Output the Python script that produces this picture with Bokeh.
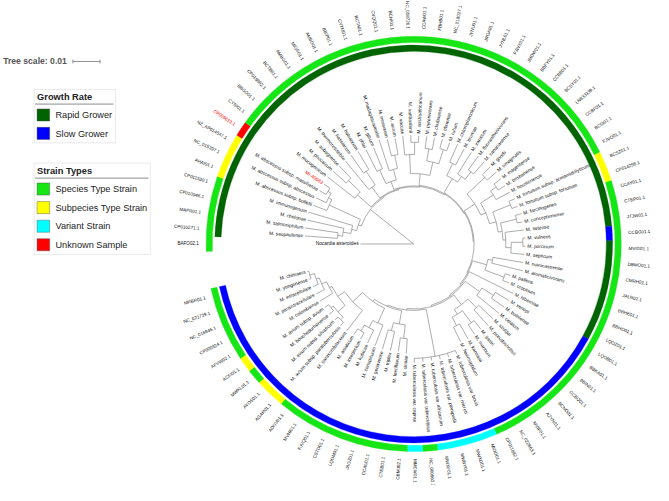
import math
from bokeh.plotting import figure
from bokeh.models import Range1d, ColumnDataSource
from bokeh.core.properties import value
from bokeh.embed import file_html
from bokeh.resources import INLINE

# ------------------------------------------------------------------ data
species = [
    "Nocardia asteroides", "M. saopaulense", "M. salmoniphilum", "M. chelonae", "M. immunogenum",
    "M. abscessus subsp. bolletii", "M. abscessus subsp. abscessus", "M. abscessus subsp. massiliense",
    "MI-40083", "M. mucogenicum",
    "M. phocaicum", "M. aubagnense", "M. thermoresistibile", "M. hassiacum", "M. holsaticum",
    "M. phlei", "M. gilvum", "M. madagascariense", "M. neoaurum", "M. aurum",
    "M. vaccae", "M. vanbaalenii", "M. austroafricanum", "M. pyrenivorans", "M. chubuense",
    "M. obuense", "M. rufum", "M. chlorophenolicum", "M. brumae", "M. iranicum",
    "M. fluoranthenivorans", "M. canariasense", "M. goodii", "M. smegmatis", "M. mageritense",
    "M. brisbanense", "M. houstonense", "M. fortuitum subsp. acetamidolyticum",
    "M. fortuitum subsp. fortuitum", "M. farcinogenes",
    "M. conceptionense", "M. setense", "M. vulneris", "M. porcinum", "M. septicum",
    "M. novocastrense", "M. aromaticivorans", "M. pallens", "M. crocinum", "M. hiberniae",
    "M. xenopi", "M. botniense", "M. celatum", "M. szulgai", "M. pseudoshottsii",
    "M. gastri", "M. marinum", "M. kansasii", "M. haemophilum", "M. tuberculosis var. bovis",
    "M. tuberculosis var. microti", "M. tuberculosis var. pinnipedii", "M. tuberculosis var. africanum",
    "M. tuberculosis var. tuberculosis", "M. tuberculosis var. caprae",
    "M. simiae", "M. lentiflavum", "M. triplex", "M. genavense", "M. conspicuum",
    "M. kubicae", "M. interjectum", "M. asiaticum", "M. parascrofulaceum",
    "M. avium subsp. paratuberculosis", "M. avium subsp. silvaticum", "M. bouchedurhonense",
    "M. avium subsp. avium", "M. colombiense", "M. paraintracellulare",
    "M. intracellulare", "M. yongonense", "M. chimaera",
]

accessions = [
    "BAFO02.1", "CP010271.1", "MAFR01.1", "CP010946.1", "CP011530.1",
    "AHAI01.1", "NC_015397.1", "NZ_AP014547.1", "CP009613.1", "CYSI01.1",
    "BBGO01.1", "CP019882.1", "BCTB01.1", "AMBG01.1", "MIGS01.1",
    "AMBO01.1", "BBIP01.1", "CYTM01.1", "BCTA01.1", "CVQQ01.1",
    "BCHI01.1", "NC_008726.1", "CCAW01.1", "FBHB01.1", "NC_018027.1",
    "JYNU01.1", "JRGA01.1", "JYNL01.1", "FJWX01.1", "JMDW01.1",
    "BBFY01.1", "CCBB01.1", "BCSY01.1", "LN833339.1", "CCBF01.1",
    "BCSI01.1", "FJVO01.1", "BCSZ01.1", "CP014258.1", "CCAY01.1",
    "CTEP01.1", "JTJW01.1", "CCBG01.1", "MVIG01.1", "DBMO01.1",
    "CMRH01.1", "JALN02.1", "BBHE01.1", "BBHO01.1", "LQOZ01.1",
    "LQOB01.1", "BBKA01.1", "BBIN01.1", "CCBQ01.1", "BCNO01.1",
    "AZYN01.1", "MVIF01.1", "NC_022663.1", "CP011882.1", "MIOD01.1",
    "MWXD01.1", "MWBY01.1", "MWXF01.1", "NC_000962.3", "MMCW01.1",
    "CBMJ02.1", "CTEB01.1", "CCAU01.1", "JAGZ01.1", "LQOM01.1",
    "CSTD01.1", "FJVQ01.1", "MVHI01.1", "ADNV01.1", "AGAR01.1",
    "AYOS01.1", "MWKL01.1", "ACFI01.1", "AFVW02.1", "CP000324.1",
    "NC_016946.1", "NC_021729.1", "MRBR01.1",
]

# growth rate: R = rapid, S = slow, "" = not scored (outgroup)
growth = [
    "", "R", "R", "R", "R", "R", "R", "R", "R", "R",
    "R", "R", "R", "R", "R", "R", "R", "R", "R", "R",
    "R", "R", "R", "R", "R", "R", "R", "R", "R", "R",
    "R", "R", "R", "R", "R", "R", "R", "R", "R", "R",
    "R", "R", "S", "R", "R", "R", "R", "R", "R", "R",
    "S", "S", "S", "S", "S", "S", "S", "S", "S", "S",
    "S", "S", "S", "S", "S", "S", "S", "S", "S", "S",
    "S", "S", "S", "S", "S", "S", "S", "S", "S", "S",
    "S", "S", "S",
]

# strain type: S = species type, Y = subspecies type, V = variant, U = unknown sample
strain = [
    "S", "S", "S", "S", "S", "Y", "Y", "Y", "U", "S",
    "S", "S", "S", "S", "S", "S", "S", "S", "S", "S",
    "S", "S", "S", "S", "S", "S", "S", "S", "S", "S",
    "S", "S", "S", "S", "S", "S", "S", "Y", "Y", "S",
    "S", "S", "S", "S", "S", "S", "S", "S", "S", "S",
    "S", "S", "S", "S", "S", "S", "S", "S", "S", "V",
    "V", "V", "V", "S", "V", "S", "S", "S", "S", "S",
    "S", "S", "S", "S", "Y", "Y", "S", "Y", "S", "S",
    "S", "S", "S",
]

growth_names = {"R": "Rapid Grower", "S": "Slow Grower"}
growth_colors = {"R": "#006400", "S": "#0000ff"}
strain_names = {"S": "Species Type Strain", "Y": "Subpecies Type Strain",
                "V": "Variant Strain", "U": "Unknown Sample"}
strain_colors = {"S": "#16e616", "Y": "#ffff00", "V": "#00ffff", "U": "#ff0000"}

# Tree in Newick form: leaves are 1-based indices into the lists above,
# branch lengths in units of 0.001 substitutions/site.
CLADE_ABS = "((((2:12.0,3:12.2):1.8,4:13.6):2.9,5:17.0):1.9,(6:5.3,(7:4.1,(8:2.8,9:2.6):1.4):1.4):12.7)"
CLADE_MUC = "(10:12.8,(11:6.5,12:6.1):6.0)"
CLADE_THR = "(13:13.5,(14:8.1,15:7.8):6.0)"
CLADE_R1 = "((16:9.0,17:8.5):5.5,(18:12.0,(19:6.3,20:6.0):5.0):4.0)"
CLADE_R2 = "((21:7.0,(22:2.7,23:2.5):4.5):7.0,((24:4.5,25:4.3):4.5,(26:3.6,27:3.1):5.5):5.0)"
CLADE_R3 = "((28:7.2,29:6.7):5.0,(30:9.4,(31:6.3,32:6.0):3.5):2.5)"
CLADE_R4 = ("((33:4.1,34:4.4):9.0,(((35:3.2,36:3.0):2.5,37:5.8):5.5,((38:2.5,39:2.3):7.0,"
            "((40:2.3,41:2.0):6.0,(42:7.0,((43:1.0,44:0.9):4.3,45:5.0):2.0):1.0):1.5):2.5):2.0)")
CLADE_R5 = "((46:11.3,47:11.8):1.7,(48:2.0,49:2.5):7.5)"
CLADE_XBC = "((51:6.0,52:5.8):5.0,53:10.5)"
CLADE_KAN = "((54:7.3,55:7.8):4.5,((56:4.0,57:4.2):5.5,(58:6.4,59:6.0):3.5):2.0)"
CLADE_TB = "(60:1.3,61:1.5,62:1.4,63:1.3,64:1.4,65:1.6)"
CLADE_SIM = "((66:5.5,67:5.0):5.0,(68:7.3,69:7.6):3.0)"
CLADE_CON = "(70:8.0,(71:5.3,(72:2.7,73:2.5):2.5):3.0)"
CLADE_MAC = ("(74:9.5,(((75:1.6,76:1.5):1.3,(77:2.0,78:1.8):1.0):3.5,"
             "(79:5.4,(80:3.4,(81:2.1,(82:0.6,83:0.5):1.8):1.2):2.0):1.0):3.0)")
TREE = ("(1:19.6,(" + CLADE_ABS + ":1.2,(" + CLADE_MUC + ":6.7,(" + CLADE_THR + ":4.9,("
        + CLADE_R1 + ":3.1,(" + CLADE_R2 + ":4.3,(" + CLADE_R3 + ":6.0,(" + CLADE_R4 + ":4.7,("
        + CLADE_R5 + ":5.4,(50:18.0,(" + CLADE_XBC + ":6.5,(" + CLADE_KAN + ":4.5,(" + CLADE_TB
        + ":17.7,(" + CLADE_SIM + ":5.0,(" + CLADE_CON + ":6.0," + CLADE_MAC
        + ":5.0):1.0):0.5):0.5):0.5):0.5):0.4):0.3):0.3):0.3):0.3):0.3):0.3):0.4):20.4);")
LENGTH_UNIT = 0.001
SCALE_BAR = 0.01

# ------------------------------------------------------------------ layout
W, H = 653, 485
IMG_W, IMG_H = 669, 501
S = H / IMG_H                      # uniform shrink so the whole picture fits
CX, CY = 424.0, 251.5              # circle centre (picture pixels)
PX_PER_SUB = 2800.0                # tree scale: 0.01 -> 28 px
ARC_START, ARC_SPAN = 180.0, 345.5
R_GROW = (199.0, 205.5)
R_STRAIN = (208.0, 214.5)
R_OUTER_LABEL = 222.0
FONT = value("Liberation Sans")


def fs(px):
    return "%.2fpx" % (px * S)


def ix(x):
    return x - CX


def iy(y):
    return CY - y


def parse(s):
    pos = 0

    def node():
        nonlocal pos
        children = []
        if s[pos] == "(":
            pos += 1
            while True:
                children.append(node())
                if s[pos] == ",":
                    pos += 1
                    continue
                if s[pos] == ")":
                    pos += 1
                    break
        st = pos
        while pos < len(s) and s[pos] not in ",():;":
            pos += 1
        name = s[st:pos]
        length = 0.0
        if pos < len(s) and s[pos] == ":":
            pos += 1
            st = pos
            while pos < len(s) and s[pos] not in ",();":
                pos += 1
            length = float(s[st:pos])
        return {"name": name, "len": length, "children": children}

    return node()


N = len(species)
step = ARC_SPAN / (N - 1)
leaf_angle = [ARC_START - i * step for i in range(N)]

root = parse(TREE)
arcs = dict(x=[], y=[], r=[], a0=[], a1=[])
segs = dict(x0=[], y0=[], x1=[], y1=[])
tip_r = [0.0] * N


def lay(n, parent_r):
    r = parent_r + n["len"] * LENGTH_UNIT * PX_PER_SUB
    n["r"] = r
    if not n["children"]:
        k = int(n["name"]) - 1
        n["a"] = leaf_angle[k]
        tip_r[k] = r
        return
    for c in n["children"]:
        lay(c, r)
    angs = [c["a"] for c in n["children"]]
    n["a"] = (min(angs) + max(angs)) / 2.0
    if r > 0:
        arcs["x"].append(0.0)
        arcs["y"].append(0.0)
        arcs["r"].append(r)
        arcs["a0"].append(math.radians(min(angs)))
        arcs["a1"].append(math.radians(max(angs)))
    for c in n["children"]:
        t = math.radians(c["a"])
        segs["x0"].append(r * math.cos(t))
        segs["y0"].append(r * math.sin(t))
        segs["x1"].append(c["r"] * math.cos(t))
        segs["y1"].append(c["r"] * math.sin(t))


lay(root, 0.0)

# ------------------------------------------------------------------ figure
span_x = W / S
x0 = (IMG_W - span_x) / 2.0
p = figure(width=W, height=H, output_backend="svg", toolbar_location=None,
           x_range=Range1d(ix(x0), ix(x0 + span_x)),
           y_range=Range1d(iy(IMG_H), iy(0)),
           x_axis_type=None, y_axis_type=None, min_border=0)
p.grid.visible = False
p.outline_line_color = None
p.background_fill_color = "white"
p.border_fill_color = "white"

# rings (consecutive leaves of the same category merged)


def runs(codes):
    out = []
    start = 0
    for i in range(1, N + 1):
        if i == N or codes[i] != codes[start]:
            out.append((start, i - 1, codes[start]))
            start = i
    return out


def ring(codes, colors, radii):
    d = dict(a0=[], a1=[], c=[])
    for a, b, code in runs(codes):
        if code not in colors:
            continue
        d["a0"].append(math.radians(leaf_angle[b] - step / 2))
        d["a1"].append(math.radians(leaf_angle[a] + step / 2))
        d["c"].append(colors[code])
    p.annular_wedge(x=0, y=0, inner_radius=radii[0], outer_radius=radii[1],
                    start_angle="a0", end_angle="a1", direction="anticlock",
                    fill_color="c", line_color="c", line_width=0.3,
                    source=ColumnDataSource(d))


ring(growth, growth_colors, R_GROW)
ring(strain, strain_colors, R_STRAIN)

# tree
p.arc(x="x", y="y", radius="r", start_angle="a0", end_angle="a1",
      direction="anticlock", line_color="#8a8a8a", line_width=0.7,
      source=ColumnDataSource(arcs))
p.segment(x0="x0", y0="y0", x1="x1", y1="y1", line_color="#8a8a8a",
          line_width=0.7, source=ColumnDataSource(segs))


# labels
def labels(radii, texts, size):
    right = dict(x=[], y=[], t=[], a=[], c=[])
    left = dict(x=[], y=[], t=[], a=[], c=[])
    for k in range(N):
        th = leaf_angle[k]
        t = math.radians(th)
        d = right if -90.0 <= th <= 90.0 else left
        d["x"].append(radii[k] * math.cos(t))
        d["y"].append(radii[k] * math.sin(t))
        d["t"].append(texts[k])
        d["a"].append(t if d is right else t + math.pi)
        d["c"].append("#ff0000" if strain[k] == "U" else "#111111")
    for d, al in ((right, "left"), (left, "right")):
        p.text(x="x", y="y", text="t", angle="a", text_color="c",
               text_align=al, text_baseline="middle", text_font=FONT,
               text_font_size=fs(size), source=ColumnDataSource(d))


labels([r + 2.0 for r in tip_r], species, 5.0)
labels([R_OUTER_LABEL] * N, accessions, 4.7)

# tree scale
bar_len = SCALE_BAR * PX_PER_SUB
p.text(x=[ix(0)], y=[iy(62.5)], text=["Tree scale: %g" % SCALE_BAR],
       text_font=FONT, text_font_style="bold", text_font_size=fs(8.9),
       text_color="#555555", text_baseline="middle", text_align="left")
p.segment(x0=[ix(72), ix(72), ix(72 + bar_len)], y0=[iy(63), iy(61), iy(61)],
          x1=[ix(72 + bar_len), ix(72), ix(72 + bar_len)], y1=[iy(63), iy(65), iy(65)],
          line_color="#777777", line_width=0.8)


# legends
def legend(title, items, names, colors, left, right, top, row0, title_y, rule_y, row_h):
    bottom = row0 + row_h * len(items) - 3
    p.quad(left=[ix(left)], right=[ix(right)], top=[iy(top)], bottom=[iy(bottom)],
           fill_color="white", line_color="#e4e4e4", line_width=0.8)
    p.text(x=[ix(left + 3)], y=[iy(title_y)], text=[title], text_font=FONT,
           text_font_style="bold", text_font_size=fs(9.6), text_color="#222222",
           text_baseline="middle", text_align="left")
    p.segment(x0=[ix(left + 1)], y0=[iy(rule_y)], x1=[ix(right - 2)], y1=[iy(rule_y)],
              line_color="#8c8c8c", line_width=1.0)
    d = dict(l=[], r=[], t=[], b=[], c=[], tx=[], ty=[], s=[])
    for i, code in enumerate(items):
        yt = row0 + i * row_h
        d["l"].append(ix(left + 3))
        d["r"].append(ix(left + 16))
        d["t"].append(iy(yt))
        d["b"].append(iy(yt + 12.5))
        d["c"].append(colors[code])
        d["tx"].append(ix(left + 22))
        d["ty"].append(iy(yt + 6.5))
        d["s"].append(names[code])
    src = ColumnDataSource(d)
    p.quad(left="l", right="r", top="t", bottom="b", fill_color="c",
           line_color="#444444", line_alpha=0.5, line_width=0.8, source=src)
    p.text(x="tx", y="ty", text="s", text_font=FONT, text_font_size=fs(9.5),
           text_color="#222222", text_baseline="middle", text_align="left", source=src)


legend("Growth Rate", ["R", "S"], growth_names, growth_colors,
       32, 116, 92, 112, 99.5, 107, 19)
legend("Strain Types", ["S", "Y", "V", "U"], strain_names, strain_colors,
       32, 152, 168, 188.5, 176, 183.5, 19.2)

open("out.html", "w").write(file_html(p, INLINE))
